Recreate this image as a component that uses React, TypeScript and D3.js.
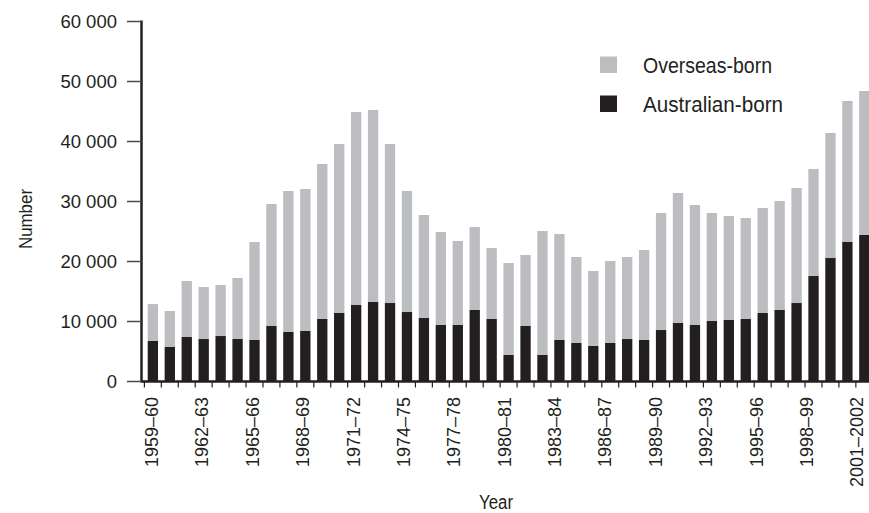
import { useEffect, useRef } from 'react';
import * as d3 from 'd3';

const years = [
  '1959–60', '1960–61', '1961–62', '1962–63', '1963–64', '1964–65', '1965–66', '1966–67',
  '1967–68', '1968–69', '1969–70', '1970–71', '1971–72', '1972–73', '1973–74', '1974–75',
  '1975–76', '1976–77', '1977–78', '1978–79', '1979–80', '1980–81', '1981–82', '1982–83',
  '1983–84', '1984–85', '1985–86', '1986–87', '1987–88', '1988–89', '1989–90', '1990–91',
  '1991–92', '1992–93', '1993–94', '1994–95', '1995–96', '1996–97', '1997–98', '1998–99',
  '1999–2000', '2000–01', '2001–2002',
];

// only every third year gets a label
const labelledYears = years.filter((d, i) => i % 3 === 0);

const australianBorn = [
  6750, 5750, 7420, 7080, 7580, 7080, 6920, 9250, 8250, 8420, 10420, 11420, 12750, 13250,
  13080, 11580, 10580, 9420, 9420, 11920, 10420, 4420, 9250, 4420, 6920, 6420, 5920, 6420,
  7080, 6920, 8580, 9750, 9420, 10080, 10250, 10420, 11420, 11920, 13080, 17580, 20580,
  23250, 24420,
];

const overseasBorn = [
  6150, 6000, 9330, 8670, 8500, 10170, 16330, 20330, 23500, 23660, 25830, 28160, 32170, 32000,
  26500, 20170, 17170, 15500, 14000, 13830, 11830, 15330, 11830, 20660, 17660, 14330, 12500,
  13660, 13670, 15000, 19500, 21670, 20000, 18000, 17330, 16830, 17500, 18160, 19170, 17840,
  20840, 23500, 24000,
];

const seriesKeys = ['australian', 'overseas'];
const seriesNames = ['Overseas-born', 'Australian-born'];
const yTicks = [0, 10000, 20000, 30000, 40000, 50000, 60000];

const GREY = '#bcbdc0';
const BLACK = '#231f20';
const FONT = '"Liberation Sans", Arial, Helvetica, sans-serif';

export default function App() {
  const ref = useRef<SVGSVGElement>(null);

  useEffect(() => {
    if (!ref.current) return;
    const svg = d3.select(ref.current);
    svg.selectAll('*').remove();

    const rows = years.map((y, i) => ({
      year: y,
      australian: australianBorn[i],
      overseas: overseasBorn[i],
    }));

    const x = d3.scaleBand<string>()
      .domain(years)
      .range([141.5, 875.7])
      .paddingInner(0.39)
      .paddingOuter(0.366);

    // the year labels sit on a slightly tighter spacing than the bars
    const labelX = d3.scaleLinear()
      .domain([0, years.length - 1])
      .range([151.7, 857]);

    const y = d3.scaleLinear()
      .domain([0, 60000])
      .range([381.5, 21.5]);

    const stack = d3.stack<any>().keys(seriesKeys);
    const layers = stack(rows);
    const color = d3.scaleOrdinal<string, string>().domain(seriesKeys).range([BLACK, GREY]);

    // Bars
    svg.append('g')
      .selectAll('g')
      .data(layers)
      .join('g')
      .attr('fill', d => color(d.key))
      .selectAll('rect')
      .data(d => d)
      .join('rect')
      .attr('x', d => x(d.data.year)!)
      .attr('width', x.bandwidth())
      .attr('y', d => y(d[1]))
      .attr('height', d => y(d[0]) - y(d[1]));

    const gap = x.step() * x.paddingInner();

    // X axis
    const xAxis = svg.append('g');
    xAxis.append('line')
      .attr('x1', 141.5).attr('x2', 869)
      .attr('y1', y(0)).attr('y2', y(0))
      .attr('stroke', BLACK).attr('stroke-width', 2.5);
    xAxis.selectAll('.xtick')
      .data(years)
      .join('line')
      .attr('class', 'xtick')
      .attr('x1', d => x(d)! - gap / 2)
      .attr('x2', d => x(d)! - gap / 2)
      .attr('y1', y(0)).attr('y2', y(0) + 6)
      .attr('stroke', BLACK).attr('stroke-width', 1.2);
    xAxis.selectAll('.xlabel')
      .data(labelledYears)
      .join('text')
      .attr('class', 'xlabel')
      .attr('transform', d => `translate(${labelX(years.indexOf(d))},397) rotate(-90)`)
      .attr('text-anchor', 'end')
      .attr('dy', '0.35em')
      .style('font-family', FONT)
      .style('font-size', '18px')
      .style('fill', BLACK)
      .text(d => d);

    // Y axis
    const yAxis = svg.append('g');
    yAxis.append('line')
      .attr('x1', 141.5).attr('x2', 141.5)
      .attr('y1', y(60000) - 1).attr('y2', y(0) + 1)
      .attr('stroke', BLACK).attr('stroke-width', 2.5);
    yAxis.selectAll('.ytick')
      .data(yTicks)
      .join('line')
      .attr('class', 'ytick')
      .attr('x1', 127).attr('x2', 141.5)
      .attr('y1', d => y(d)).attr('y2', d => y(d))
      .attr('stroke', '#4a4a4a').attr('stroke-width', 1.5);
    yAxis.selectAll('.ylabel')
      .data(yTicks)
      .join('text')
      .attr('class', 'ylabel')
      .attr('x', 117)
      .attr('y', d => y(d))
      .attr('dy', '0.36em')
      .attr('text-anchor', 'end')
      .style('font-family', FONT)
      .style('font-size', '18.5px')
      .style('fill', BLACK)
      .text(d => (d === 0 ? '0' : d3.format(',')(d).replace(',', ' ')));

    // Axis titles
    svg.append('text')
      .attr('transform', 'translate(32,219) rotate(-90)')
      .attr('text-anchor', 'middle')
      .attr('textLength', 60)
      .attr('lengthAdjust', 'spacingAndGlyphs')
      .style('font-family', FONT)
      .style('font-size', '19px')
      .style('fill', BLACK)
      .text('Number');
    svg.append('text')
      .attr('x', 496)
      .attr('y', 509)
      .attr('text-anchor', 'middle')
      .attr('textLength', 34)
      .attr('lengthAdjust', 'spacingAndGlyphs')
      .style('font-family', FONT)
      .style('font-size', '20px')
      .style('fill', BLACK)
      .text('Year');

    // Legend
    const legend = svg.append('g');
    const legendColors = [GREY, BLACK];
    const legendY = [56.5, 95.5];
    const legendWidths = [129, 140];
    legend.selectAll('rect')
      .data(seriesNames)
      .join('rect')
      .attr('x', 600)
      .attr('y', (d, i) => legendY[i])
      .attr('width', 17)
      .attr('height', 16.5)
      .attr('fill', (d, i) => legendColors[i]);
    legend.selectAll('text')
      .data(seriesNames)
      .join('text')
      .attr('x', 643)
      .attr('y', (d, i) => legendY[i] + 16.8)
      .attr('textLength', (d, i) => legendWidths[i])
      .attr('lengthAdjust', 'spacingAndGlyphs')
      .style('font-family', FONT)
      .style('font-size', '22px')
      .style('fill', BLACK)
      .text(d => d);
  }, []);

  return (
    <svg
      ref={ref}
      width={869}
      height={513}
      style={{ position: 'absolute', left: 0, top: 0, background: '#fff' }}
    />
  );
}
